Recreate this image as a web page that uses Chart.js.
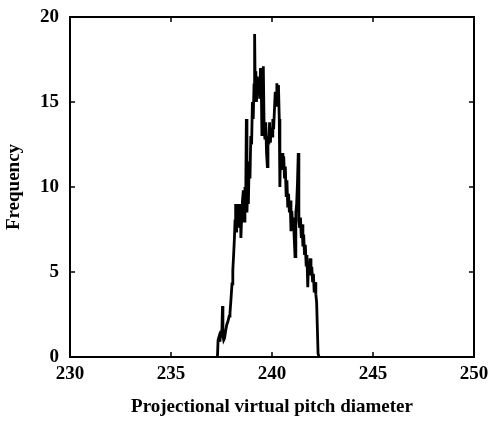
<!DOCTYPE html>
<html>
<head>
<meta charset="utf-8">
<script src="https://cdn.jsdelivr.net/npm/chart.js@4/dist/chart.umd.min.js"></script>
<style>
  html, body { margin: 0; padding: 0; background: #fff; }
  #wrap { width: 492px; height: 421px; }
</style>
</head>
<body>
<div id="wrap"><canvas id="grafico" width="492" height="421"></canvas></div>
<script>
// valores
const diametros = [
  237.30, 237.33, 237.38, 237.42, 237.47, 237.52, 237.55, 237.57, 237.61, 237.65,
  237.70, 237.76, 237.82, 237.88, 237.92, 237.97, 238.02, 238.06, 238.10, 238.14,
  238.17, 238.20, 238.22, 238.25, 238.28, 238.31, 238.34, 238.37, 238.40, 238.43,
  238.46, 238.50, 238.54, 238.58, 238.62, 238.66, 238.70, 238.73, 238.76, 238.80,
  238.83, 238.87, 238.91, 238.95, 238.99, 239.03, 239.07, 239.11, 239.14, 239.17,
  239.20, 239.23, 239.27, 239.31, 239.35, 239.39, 239.43, 239.47, 239.50, 239.54,
  239.57, 239.61, 239.65, 239.69, 239.73, 239.77, 239.80, 239.84, 239.88, 239.92,
  239.96, 240.00, 240.04, 240.08, 240.12, 240.16, 240.20, 240.24, 240.28, 240.32,
  240.36, 240.39, 240.42, 240.46, 240.50, 240.54, 240.58, 240.62, 240.66, 240.70,
  240.74, 240.78, 240.82, 240.86, 240.90, 240.94, 240.98, 241.02, 241.06, 241.10,
  241.14, 241.18, 241.22, 241.26, 241.30, 241.33, 241.37, 241.41, 241.45, 241.49,
  241.53, 241.57, 241.61, 241.65, 241.69, 241.73, 241.77, 241.81, 241.85, 241.89,
  241.93, 241.97, 242.01, 242.05, 242.09, 242.13, 242.17, 242.21, 242.25, 242.28,
  242.33
];
const frequencias = [
  0, 1.0, 1.2, 0.9, 1.4, 1.6, 3.0, 1.3, 1.0, 1.1,
  1.5, 1.9, 2.1, 2.4, 2.6, 3.4, 4.3, 5.1, 6.0, 7.0,
  8.0, 9.0, 7.4, 8.8, 8.1, 9.0, 7.6, 8.6, 7.8, 9.0,
  7.0, 8.3, 9.2, 9.8, 8.0, 10.0, 9.4, 14.0, 8.5, 10.2,
  9.0, 11.5, 10.5, 13.0, 12.5, 15.0, 14.0, 16.0, 19.0, 15.5,
  16.8, 15.0, 16.5, 15.8, 16.3, 15.2, 17.0, 16.0, 13.0, 15.5,
  17.1, 13.5, 12.8, 13.8, 12.0, 11.2, 13.0, 12.5, 13.8, 12.6,
  13.5, 13.0, 14.0, 13.4, 14.5, 15.6, 14.8, 16.1, 15.4, 16.0,
  14.0, 10.0, 12.0, 11.4, 12.0, 11.0, 11.8, 10.5, 11.2, 9.5,
  10.4, 8.8, 9.6, 8.5, 9.2, 7.4, 8.6, 7.8, 8.2, 7.0,
  5.9, 8.5, 9.0, 10.2, 12.0, 8.0, 7.6, 8.2, 7.0, 7.8,
  6.5, 7.2, 6.0, 6.6, 5.4, 6.0, 4.1, 5.6, 5.0, 5.8,
  4.8, 5.3, 4.4, 4.9, 3.8, 4.4, 3.7, 3.2, 1.5, 0.2,
  0
];
const ticksX = [230, 235, 240, 245, 250];
const ticksY = [0, 5, 10, 15, 20];

const fonte = "'Liberation Serif', 'Times New Roman', serif";

// moldura e marcas de escala para dentro
const moldura = {
  id: "moldura",
  afterDraw(chart) {
    const { ctx, chartArea: a, scales } = chart;
    ctx.save();
    ctx.strokeStyle = "#000";
    ctx.lineWidth = 2;
    ctx.strokeRect(a.left, a.top, a.right - a.left, a.bottom - a.top);
    ctx.lineWidth = 1.5;
    ctx.beginPath();
    ticksX.forEach(v => {
      const px = scales.x.getPixelForValue(v);
      ctx.moveTo(px, a.bottom); ctx.lineTo(px, a.bottom - 5);
      ctx.moveTo(px, a.top); ctx.lineTo(px, a.top + 5);
    });
    ticksY.forEach(v => {
      const py = scales.y.getPixelForValue(v);
      ctx.moveTo(a.left, py); ctx.lineTo(a.left + 5, py);
      ctx.moveTo(a.right, py); ctx.lineTo(a.right - 5, py);
    });
    ctx.stroke();
    ctx.restore();
  }
};

const ctx = document.getElementById("grafico").getContext("2d");
new Chart(ctx, {
  type: "scatter",
  data: {
    datasets: [{
      label: "Frequency",
      data: diametros.map((d, i) => ({ x: d, y: frequencias[i] })),
      showLine: true,
      borderColor: "#000",
      borderWidth: 2.8,
      pointRadius: 0,
      tension: 0
    }]
  },
  options: {
    responsive: false,
    animation: false,
    layout: { padding: { top: 17, right: 18, left: 0, bottom: 0 } },
    plugins: { legend: { display: false }, tooltip: { enabled: false } },
    scales: {
      x: {
        type: "linear",
        min: 230, max: 250,
        afterBuildTicks: s => { s.ticks = ticksX.map(v => ({ value: v })); },
        afterFit: s => { s.height = 64; s.paddingLeft = 0; s.paddingRight = 0; },
        grid: { display: false, drawTicks: false },
        border: { display: false },
        ticks: { color: "#000", padding: 6, font: { family: fonte, size: 19, weight: "bold" } },
        title: {
          display: true,
          text: "Projectional virtual pitch diameter",
          color: "#000",
          padding: { top: 0, bottom: 3 },
          font: { family: fonte, size: 19, weight: "bold" }
        }
      },
      y: {
        min: 0, max: 20,
        afterBuildTicks: s => { s.ticks = ticksY.map(v => ({ value: v })); },
        afterFit: s => { s.width = 70; s.paddingTop = 0; s.paddingBottom = 0; },
        grid: { display: false, drawTicks: false },
        border: { display: false },
        ticks: { color: "#000", padding: 11, font: { family: fonte, size: 19, weight: "bold" } },
        title: {
          display: true,
          text: "Frequency",
          color: "#000",
          padding: { top: 3, bottom: 0 },
          font: { family: fonte, size: 19, weight: "bold" }
        }
      }
    }
  },
  plugins: [moldura]
});
</script>
</body>
</html>
